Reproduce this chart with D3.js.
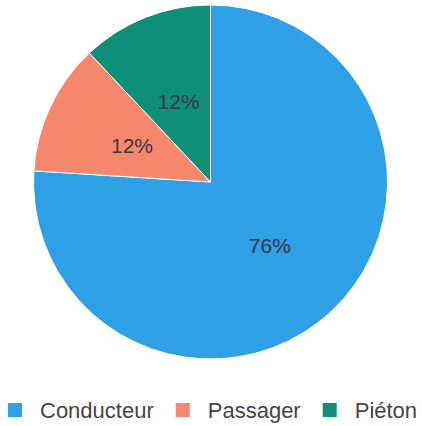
<!DOCTYPE html>
<html>
  <head>
    <meta charset="utf-8">
    <title>Répartition</title>
    <style>
      body { margin: 0; background-color: white; }
      .label { font: 21px "Liberation Sans", Arial, sans-serif; fill: #363845; }
      .legend text { font: 22px "Liberation Sans", Arial, sans-serif; fill: #454545; }
    </style>
  </head>
  <body>
  <svg class="chart"></svg>
  <script src="https://d3js.org/d3.v7.min.js"></script>
  <script>
    var categories = ["Conducteur", "Passager", "Piéton"];
    var values = [76, 12, 12];
    var labels = ["76%", "12%", "12%"];
    var colors = ["#2f9fe6", "#f5886c", "#0f8f78"];

    var width = 422, height = 426;
    var cx = 210.5, cy = 182, radius = 177;

    var svg = d3.select("svg")
      .attr("width", width)
      .attr("height", height);

    var color = d3.scaleOrdinal().domain(categories).range(colors);

    var pie = d3.pie().sort(null).value(function(d, i) { return values[i]; });
    var arcs = pie(categories);

    var arc = d3.arc().innerRadius(0).outerRadius(radius);
    var labelArc = d3.arc().innerRadius(radius * 0.49).outerRadius(radius * 0.49);

    var g = svg.append("g")
      .attr("transform", "translate(" + cx + "," + cy + ")");

    g.selectAll("path")
      .data(arcs)
      .enter().append("path")
      .attr("d", arc)
      .attr("fill", function(d) { return color(d.data); })
      .attr("stroke", "white")
      .attr("stroke-width", 1);

    g.selectAll("text")
      .data(arcs)
      .enter().append("text")
      .attr("class", "label")
      .attr("transform", function(d) { return "translate(" + labelArc.centroid(d) + ")"; })
      .attr("text-anchor", "middle")
      .attr("dy", "0.36em")
      .text(function(d, i) { return labels[i]; });

    // legend, laid out from measured text widths
    var legend = svg.append("g").attr("class", "legend");
    var x = 8, ly = 410, sq = 14;
    categories.forEach(function(c) {
      var item = legend.append("g");
      item.append("rect")
        .attr("x", x)
        .attr("y", ly - sq / 2)
        .attr("width", sq)
        .attr("height", sq)
        .attr("fill", color(c));
      var t = item.append("text")
        .attr("x", x + sq + 18)
        .attr("y", ly)
        .attr("dy", "0.36em")
        .text(c);
      x = x + sq + 18 + t.node().getComputedTextLength() + 22;
    });
  </script>
  </body>
</html>
